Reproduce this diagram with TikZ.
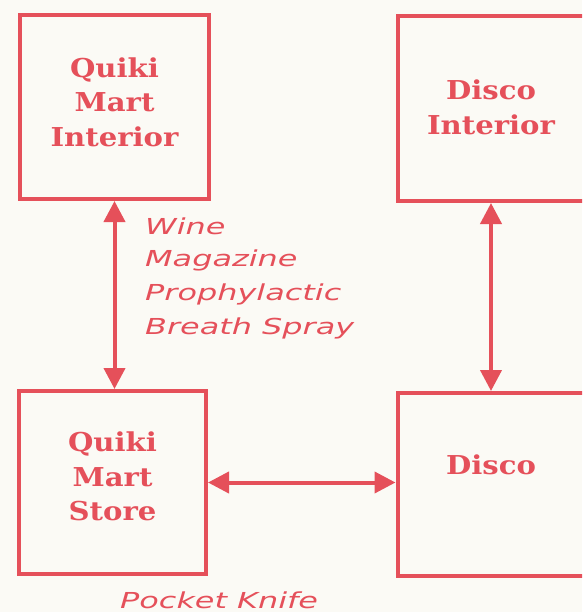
\documentclass[tikz,border=0pt]{standalone}
\usepackage{fontspec}
\newfontfamily\boxfont[FakeStretch=1.12]{DejaVu Serif}
\newfontfamily\labfont[FakeStretch=1.45]{DejaVu Sans}
\usetikzlibrary{arrows.meta,calc}
\definecolor{ink}{HTML}{E5505A}
\definecolor{paper}{HTML}{FBFAF5}
\begin{document}
\begin{tikzpicture}[x=1pt,y=-1pt,
 roombox/.style={draw=ink, line width=4pt, inner sep=0pt},
 boxtext/.style={text=ink, align=center, inner sep=0pt, font=\boxfont\bfseries\fontsize{26}{34.5}\selectfont},
 link/.style={draw=ink, line width=4pt, {Triangle[width=21pt,length=21pt]}-{Triangle[width=21pt,length=21pt]}},
 item/.style={text=ink, anchor=west, inner sep=0pt, font=\labfont\itshape\fontsize{22}{22}\selectfont}]
\fill[paper] (0,0) rectangle (582,612);
\useasboundingbox (0,0) rectangle (582,612);
\begin{scope}
\clip (0,0) rectangle (582,612);
\node[roombox, minimum width=189pt, minimum height=184pt] (qmi) at (114.5,107) {};
\node[roombox, minimum width=187pt, minimum height=185pt] (di) at (491,108.5) {};
\node[roombox, minimum width=187pt, minimum height=183pt] (qms) at (112.5,482.5) {};
\node[roombox, minimum width=187pt, minimum height=183pt] (disco) at (491,484.5) {};
\node[boxtext] (qmit) at ($(qmi)+(0,-5)$) {Quiki\\Mart\\Interior};
\node[boxtext] (dit) at ($(di)+(0,-1)$) {Disco\\Interior};
\node[boxtext] (qmst) at ($(qms)+(0,-6)$) {Quiki\\Mart\\Store};
\node[boxtext] (discot) at ($(disco)+(0,-20)$) {Disco};
\draw[link] (qmi.south) -- (qmi.south |- qms.north);
\draw[link] (di.south) -- (disco.north);
\draw[link] (qms.east) -- (qms.east -| disco.west);
\node[item] (wine) at (145,226) {Wine};
\node[item] (mag) at (145,260) {Magazine};
\node[item] (pro) at (145,294) {Prophylactic};
\node[item] (bre) at (145,328) {Breath Spray};
\node[item] (pk) at (120,600) {Pocket Knife};
\end{scope}
\end{tikzpicture}
\end{document}
